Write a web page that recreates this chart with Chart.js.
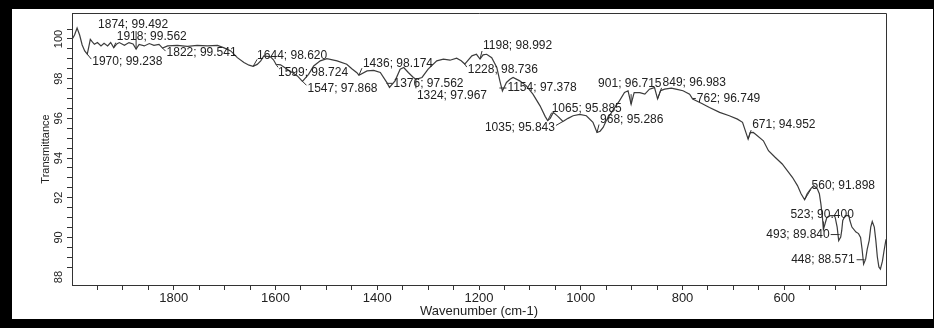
<!DOCTYPE html>
<html><head><meta charset="utf-8">
<script src="https://cdn.jsdelivr.net/npm/chart.js@4.4.1/dist/chart.umd.min.js"></script>
<style>html,body{margin:0;padding:0;background:#fff;}#wrap{width:934px;height:328px;}</style>
</head><body><div id="wrap"><canvas id="c" width="934" height="328"></canvas></div>
<script>
// ---- data ----
const wavenumbers = [2000,1995,1990,1985,1980,1975,1970,1967,1964,1960,1956,1950,1943,1937,1930,1924,1918,1912,1907,1897,1888,1880,1874,1868,1858,1848,1839,1829,1822,1812,1793,1773,1754,1734,1714,1701,1688,1675,1662,1652,1644,1636,1629,1623,1610,1604,1599,1590,1577,1557,1547,1535,1525,1512,1499,1479,1460,1450,1440,1436,1420,1407,1394,1381,1376,1365,1355,1348,1339,1329,1324,1312,1300,1283,1270,1257,1244,1235,1228,1214,1205,1198,1192,1185,1175,1165,1159,1154,1146,1139,1133,1120,1107,1094,1080,1070,1065,1060,1054,1045,1035,1025,1015,1002,989,976,968,962,956,950,933,924,914,907,901,895,884,874,865,855,849,843,835,822,813,799,786,780,762,747,727,708,692,682,671,667,661,657,641,631,618,604,594,584,574,567,560,555,548,542,535,531,528,525,523,518,516,509,502,500,496,493,489,487,485,480,473,471,467,459,454,450,447,444,440,437,433,430,427,423,420,417,414,411,407,404,400];
const transmittance = [99.98,100.2,100.55,100.2,99.7,99.4,99.238,99.6,99.98,99.85,99.73,99.82,99.65,99.78,99.65,99.82,99.562,99.75,99.82,99.68,99.82,99.75,99.492,99.73,99.65,99.77,99.68,99.73,99.541,99.65,99.68,99.63,99.68,99.65,99.68,99.55,99.4,99.06,98.81,98.68,98.62,98.72,98.9,99.15,99.1,98.95,98.724,98.7,98.48,98.14,97.868,98.22,98.64,98.9,99.01,98.9,98.73,98.5,98.3,98.174,98.39,98.42,98.31,97.8,97.562,97.89,98.48,98.56,98.31,98.06,97.967,98.06,98.48,98.9,98.98,98.93,99.03,98.9,98.736,99.15,99.23,98.992,99.2,99.23,99.06,98.56,97.89,97.378,97.81,97.97,98.06,97.89,97.64,97.22,96.63,96.1,95.885,96.0,96.3,96.1,95.843,96.0,96.13,96.2,96.13,95.8,95.286,95.35,95.54,95.88,96.55,96.88,97.3,97.39,96.715,97.3,97.3,97.22,97.47,97.55,96.983,97.4,97.47,97.52,97.47,97.39,97.22,96.97,96.749,96.55,96.3,96.13,95.96,95.8,94.952,95.28,95.29,95.21,94.87,94.37,94.04,93.7,93.37,93.03,92.61,92.2,91.898,92.2,92.45,92.61,92.45,92.2,91.69,91.02,90.4,90.85,91.02,91.1,91.1,91.02,90.52,89.84,90.02,90.35,90.85,91.1,91.1,90.85,90.52,90.27,90.19,90.0,89.4,88.65,88.9,89.4,89.85,90.52,90.8,90.52,89.85,89.01,88.51,88.4,88.8,89.3,89.9];
const peakWavenumbers = [1874,1918,1970,1822,1644,1599,1547,1436,1376,1324,1228,1198,1154,1065,1035,968,901,849,762,671,560,523,493,448];
const peakValues = [99.492,99.562,99.238,99.541,98.620,98.724,97.868,98.174,97.562,97.967,98.736,98.992,97.378,95.885,95.843,95.286,96.715,96.983,96.749,94.952,91.898,90.400,89.840,88.571];
const xTickLabels = [1800,1600,1400,1200,1000,800,600];
const yTickLabels = [88,90,92,94,96,98,100];
const xTitle = 'Wavenumber (cm-1)';
const yTitle = 'Transmittance';

// ---- label placement styles (pixel offsets from each peak) ----
const peakLabelStyle = [
  {dx:-38,dy:-24,align:'left', lead:[0,0,0,-18]},
  {dx:3,dy:-11,align:'left', lead:[0,0,2,-5]},
  {dx:5,dy:8,align:'left', lead:[0,0,4,5]},
  {dx:4,dy:5,align:'left', lead:[0,0,3,3]},
  {dx:4,dy:-11,align:'left', lead:[0,0,4,-7]},
  {dx:2,dy:8,align:'left', lead:[0,0,2,3]},
  {dx:5,dy:7,align:'left', lead:[0,0,4,4]},
  {dx:4,dy:-12,align:'left', lead:[0,0,3,-7]},
  {dx:4,dy:-4,align:'left', lead:[-3,-4,3,-4]},
  {dx:1,dy:16,align:'left', lead:[0,0,0,9]},
  {dx:3,dy:6,align:'left', lead:[0,0,2,3]},
  {dx:3,dy:-13,align:'left', lead:[0,0,2,-8]},
  {dx:5,dy:-3,align:'left', lead:[-3,-3,4,-3]},
  {dx:4,dy:-12,align:'left', lead:[0,0,4,-8]},
  {dx:-8,dy:6,align:'right', lead:[0,0,-7,4]},
  {dx:3,dy:-13,align:'left', lead:[0,0,2,-8]},
  {dx:-33,dy:-20,align:'left', lead:[0,0,0,-10]},
  {dx:5,dy:-16,align:'left', lead:[0,0,4,-11]},
  {dx:-5,dy:-5,align:'left', lead:[-9,-5,-6,-5]},
  {dx:4,dy:-14,align:'left', lead:[0,0,3,-9]},
  {dx:7,dy:-14,align:'left', lead:[0,0,6,-10]},
  {dx:-33,dy:-15,align:'left', lead:[0,0,0,-8]},
  {dx:-9,dy:-6,align:'right', lead:[-8,-6,1,-6]},
  {dx:-7,dy:-6,align:'right', lead:[-5,-6,3,-6]}
];

const FONT = "'Liberation Sans', Arial, Helvetica, sans-serif";
const INK = '#222';
const AXIS = '#333';

const framePlugin = {
  id: 'frame',
  beforeDraw(c) {
    const g = c.ctx;
    g.save();
    g.fillStyle = '#000';
    g.fillRect(0, 0, c.width, c.height);
    g.fillStyle = '#fff';
    g.fillRect(12, 9, 921, 310);
    g.restore();
  },
  afterDraw(c) {
    const g = c.ctx;
    const a = c.chartArea;
    const xs = c.scales.x, ys = c.scales.y;
    g.save();
    // top and right box lines
    g.strokeStyle = AXIS;
    g.lineWidth = 1;
    g.beginPath();
    g.moveTo(a.left, Math.round(a.top) + 0.5);
    g.lineTo(Math.round(a.right) + 0.5, Math.round(a.top) + 0.5);
    g.lineTo(Math.round(a.right) + 0.5, a.bottom);
    g.stroke();
    // rotated y tick labels
    g.fillStyle = INK;
    g.font = '11px ' + FONT;
    g.textAlign = 'center';
    g.textBaseline = 'middle';
    yTickLabels.forEach(v => {
      const y = ys.getPixelForValue(v);
      g.save();
      g.translate(58.5, y);
      g.rotate(-Math.PI / 2);
      g.fillText(String(v), 0, 0);
      g.restore();
    });
    // peak annotations
    g.font = '12px ' + FONT;
    g.textBaseline = 'middle';
    g.strokeStyle = '#333';
    g.lineWidth = 1;
    peakWavenumbers.forEach((w, i) => {
      const ax = xs.getPixelForValue(w);
      const ay = ys.getPixelForValue(peakValues[i]);
      const s = peakLabelStyle[i];
      g.beginPath();
      g.moveTo(ax + s.lead[0], ay + s.lead[1]);
      g.lineTo(ax + s.lead[2], ay + s.lead[3]);
      g.stroke();
      g.textAlign = s.align;
      g.fillText(w + '; ' + peakValues[i].toFixed(3), ax + s.dx, ay + s.dy);
    });
    g.restore();
  }
};

const hideEdge = (edges) => (ctx) => {
  const v = ctx.tick ? ctx.tick.value : null;
  return edges(v) ? 'rgba(0,0,0,0)' : AXIS;
};

new Chart(document.getElementById('c').getContext('2d'), {
  type: 'line',
  data: {
    datasets: [{
      data: wavenumbers.map((w, i) => ({x: w, y: transmittance[i]})),
      borderColor: '#3c3c3c',
      borderWidth: 1.2,
      pointRadius: 0,
      tension: 0,
      fill: false
    }]
  },
  options: {
    responsive: false,
    animation: false,
    devicePixelRatio: 1,
    layout: {padding: {top: 13, right: 48, left: 0, bottom: 0}},
    plugins: {legend: {display: false}, tooltip: {enabled: false}},
    scales: {
      x: {
        type: 'linear', reverse: true, min: 400, max: 2000,
        ticks: {
          stepSize: 50, autoSkip: false, maxRotation: 0, minRotation: 0, padding: 1,
          color: INK, font: {family: FONT, size: 13},
          callback: v => xTickLabels.includes(v) ? String(v) : ''
        },
        grid: {display: true, drawOnChartArea: false, drawTicks: true, tickLength: 5,
               tickColor: hideEdge(v => v === 400 || v === 2000), color: AXIS},
        border: {display: true, color: AXIS, width: 1},
        title: {display: true, text: xTitle, color: INK, font: {family: FONT, size: 13},
                padding: {top: 0, bottom: 9}},
        afterFit(s) { s.height = 43; }
      },
      y: {
        type: 'linear', min: 87.6, max: 101.31,
        ticks: {stepSize: 0.5, autoSkip: false, padding: 0, font: {size: 11},
                callback: () => ''},
        grid: {display: true, drawOnChartArea: false, drawTicks: true, tickLength: 5,
               tickColor: hideEdge(v => Math.abs(v * 2 - Math.round(v * 2)) > 1e-6), color: AXIS},
        border: {display: true, color: AXIS, width: 1},
        title: {display: true, text: yTitle, color: INK, font: {family: FONT, size: 11},
                padding: {top: 39, bottom: 0}},
        afterFit(s) { s.width = 72; }
      }
    }
  },
  plugins: [framePlugin]
});
</script>
</body></html>
